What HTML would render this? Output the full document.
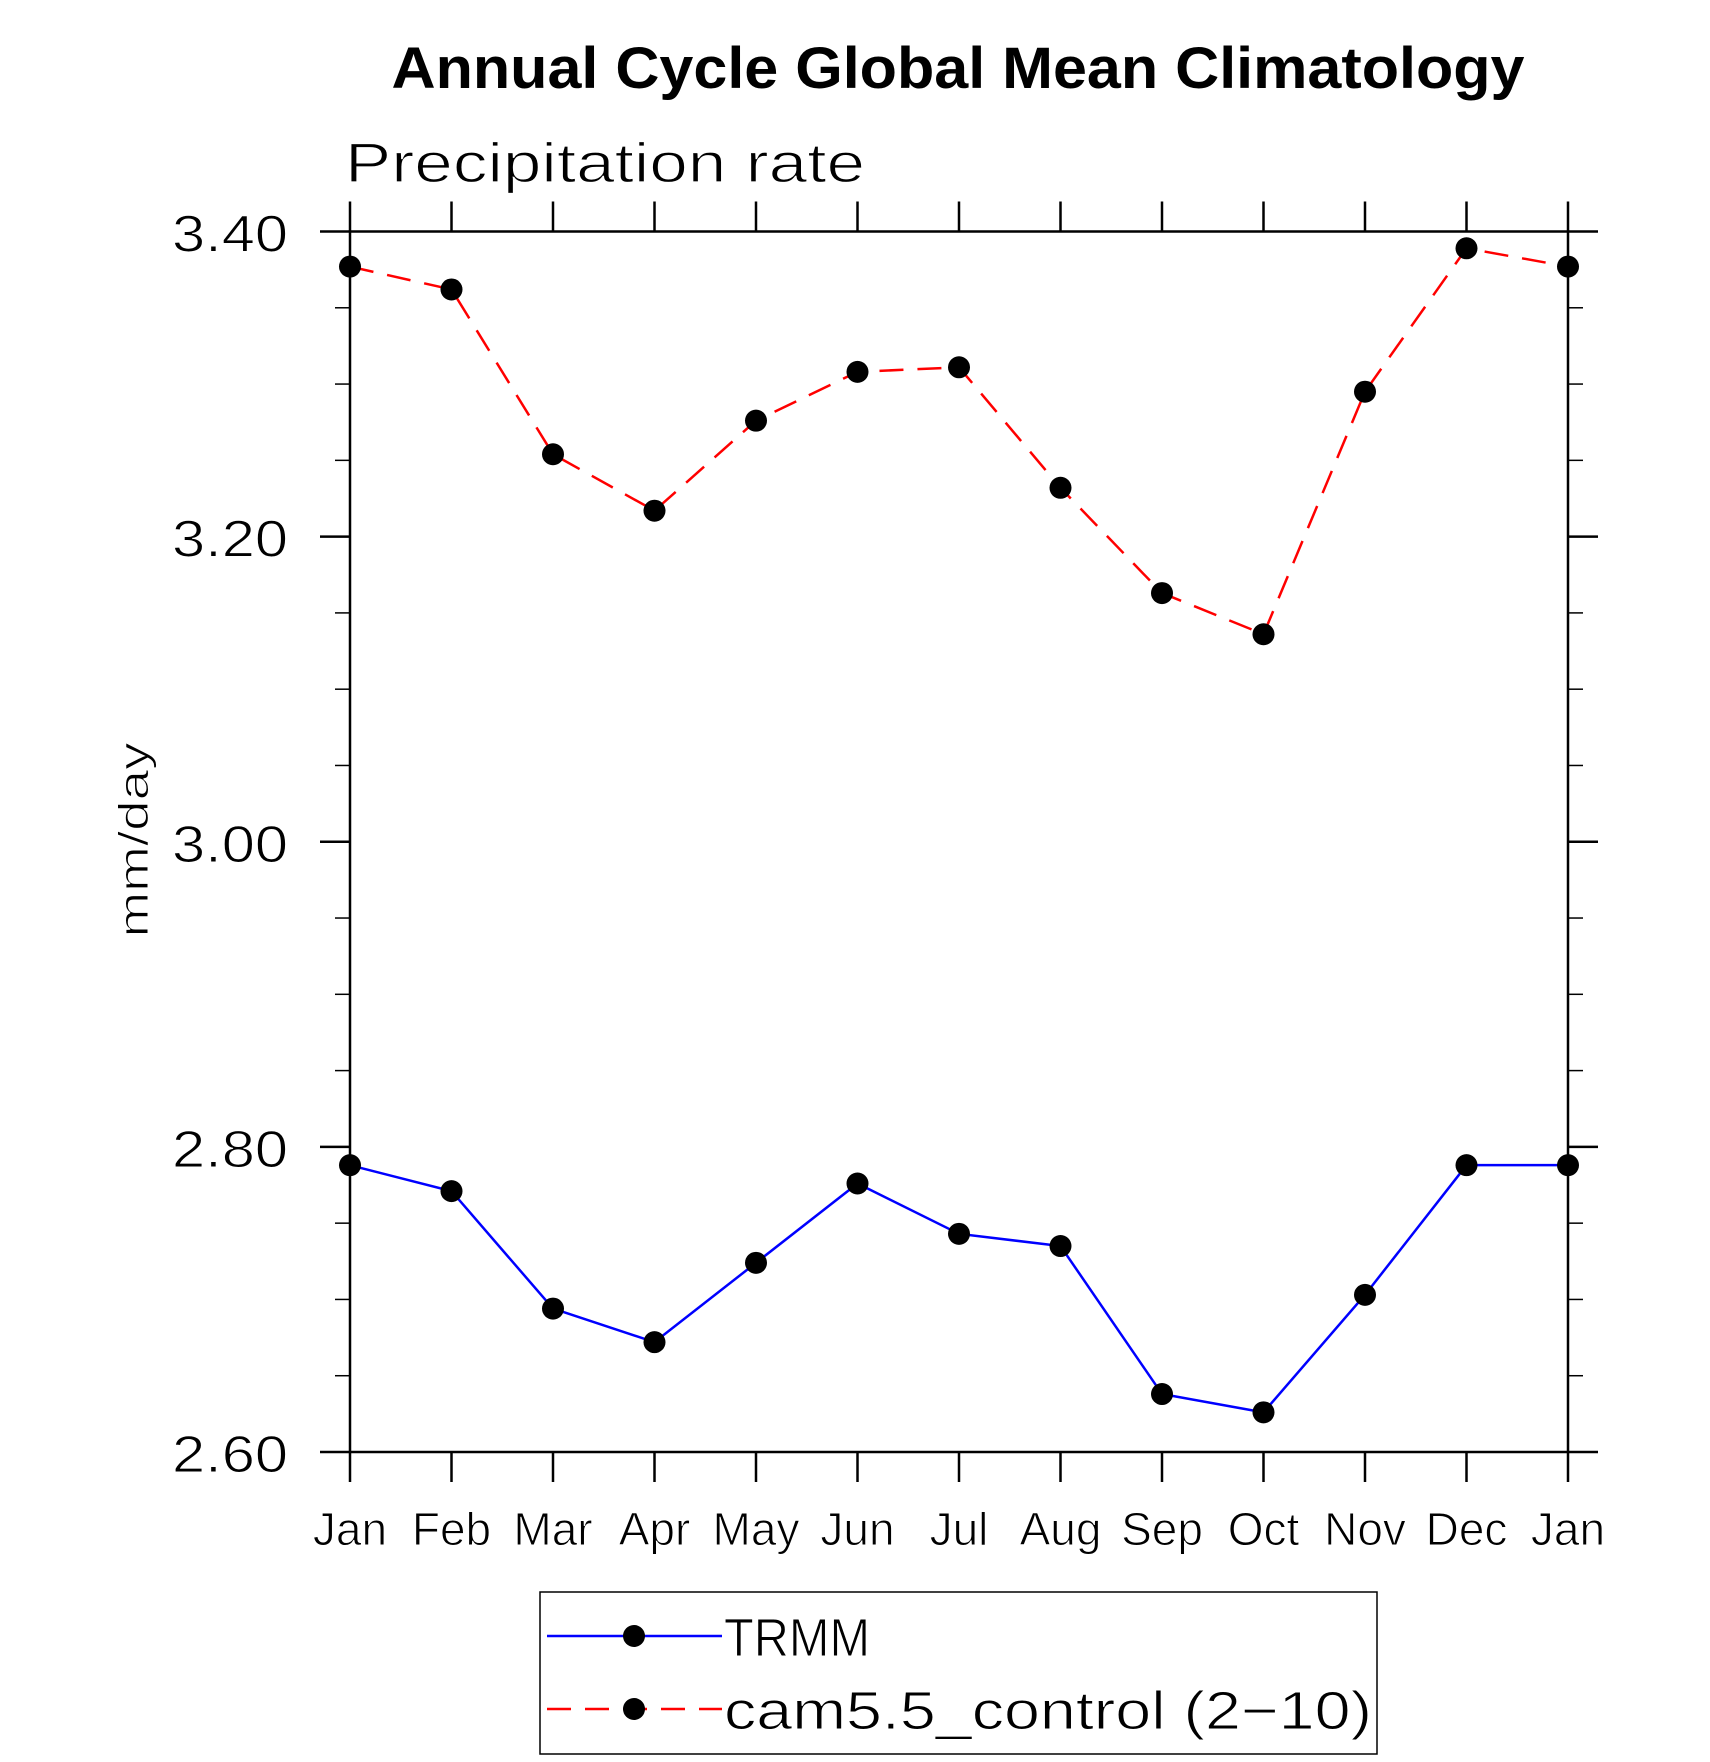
<!DOCTYPE html>
<html><head><meta charset="utf-8"><style>
html,body{margin:0;padding:0;background:#fff;}
svg{display:block;}
text{font-family:"Liberation Sans",sans-serif;}
</style></head><body>
<svg id="chart" width="1710" height="1762" viewBox="0 0 1710 1762" xmlns="http://www.w3.org/2000/svg">
<rect width="1710" height="1762" fill="#fff"/>
<text x="958" y="88" text-anchor="middle" font-size="58" font-weight="bold" textLength="1133" lengthAdjust="spacingAndGlyphs">Annual Cycle Global Mean Climatology</text>
<text x="345" y="182" font-size="56" font-weight="normal" textLength="520" lengthAdjust="spacingAndGlyphs" fill="#000" stroke="#fff" stroke-width="1.2">Precipitation rate</text>
<text transform="translate(148,840) rotate(-90)" text-anchor="middle" font-size="42" textLength="195" lengthAdjust="spacingAndGlyphs" stroke="#fff" stroke-width="1">mm/day</text>
<g id="axes"></g>
<g id="series"></g>
<g>
<rect x="540" y="1592" width="837" height="162" fill="none" stroke="#000" stroke-width="1.5"/>
<line x1="547" y1="1636" x2="722" y2="1636" stroke="#0000ff" stroke-width="2.5"/>
<circle cx="634" cy="1636" r="11" fill="#000"/>
<text x="724" y="1656" font-size="54" textLength="146" lengthAdjust="spacingAndGlyphs" stroke="#fff" stroke-width="1">TRMM</text>
<line x1="547" y1="1709" x2="722" y2="1709" stroke="#ff0000" stroke-width="2.5" stroke-dasharray="24,14"/>
<circle cx="634" cy="1709" r="11" fill="#000"/>
<text x="724" y="1729" font-size="54" textLength="648" lengthAdjust="spacingAndGlyphs" stroke="#fff" stroke-width="1">cam5.5_control (2−10)</text>
</g>
</svg>
<script>
const months = ["Jan","Feb","Mar","Apr","May","Jun","Jul","Aug","Sep","Oct","Nov","Dec","Jan"];
const trmm = [2.788,2.771,2.694,2.672,2.724,2.776,2.743,2.735,2.638,2.626,2.703,2.788,2.788];
const cam = [3.377,3.362,3.254,3.217,3.276,3.308,3.311,3.232,3.163,3.136,3.295,3.389,3.377];
const yTicks = [2.6,2.8,3.0,3.2,3.4];
const yTickLabels = ["2.60","2.80","3.00","3.20","3.40"];
const yMin = 2.6, yMax = 3.4;

const NS = "http://www.w3.org/2000/svg";
const L = 350, R = 1568, T = 231.5, B = 1452;
function xs(i){ return L + i*(R-L)/(months.length-1); }
function ys(v){ return B - (v-yMin)/(yMax-yMin)*(B-T); }
function mk(tag, attrs, parent){
  const e = document.createElementNS(NS, tag);
  for (const k in attrs) e.setAttribute(k, attrs[k]);
  parent.appendChild(e); return e;
}
const axes = document.getElementById('axes');
const frame = mk('rect', {x:L,y:T,width:R-L,height:B-T,fill:'none',stroke:'#000','stroke-width':2.5}, axes);


months.forEach((m,i)=>{
  const x = xs(i);
  mk('line',{x1:x,y1:B,x2:x,y2:B+30,stroke:'#000','stroke-width':2.5},axes);
  mk('line',{x1:x,y1:T,x2:x,y2:T-30,stroke:'#000','stroke-width':2.5},axes);
  const t = mk('text',{x:x,y:1545,'text-anchor':'middle','font-size':46,stroke:'#fff','stroke-width':1},axes);
  t.textContent = m;
  
  
});
for (let v = yMin; v <= yMax + 1e-9; v += 0.05) {
  const y = ys(v);
  const major = Math.abs(Math.round(v*10)/10 - v) < 1e-6 && Math.round(v*10) % 2 === 0;
  const len = major ? 30 : 15;
  mk('line',{x1:L,y1:y,x2:L-len,y2:y,stroke:'#000','stroke-width':major?2.5:1.5},axes);
  mk('line',{x1:R,y1:y,x2:R+len,y2:y,stroke:'#000','stroke-width':major?2.5:1.5},axes);
}
yTicks.forEach((v,i)=>{
  const t = mk('text',{x:288,y:ys(v)+20,'text-anchor':'end','font-size':52,textLength:116,lengthAdjust:'spacingAndGlyphs',stroke:'#fff','stroke-width':1},axes);
  t.textContent = yTickLabels[i];
  
  
});
const series = document.getElementById('series');
function drawSeries(data, color, dash, name){
  const pts = data.map((v,i)=>xs(i)+','+ys(v)).join(' ');
  const pl = mk('polyline',{points:pts,fill:'none',stroke:color,'stroke-width':2.5,'stroke-dasharray':dash},series);
  
  
  data.forEach((v,i)=>{
    const c = mk('circle',{cx:xs(i),cy:ys(v),r:11,fill:'#000'},series);
    
    
  });
}
drawSeries(cam, '#ff0000', '24,14', 'cam5-control');
drawSeries(trmm, '#0000ff', 'none', 'trmm');
</script>
</body></html>
